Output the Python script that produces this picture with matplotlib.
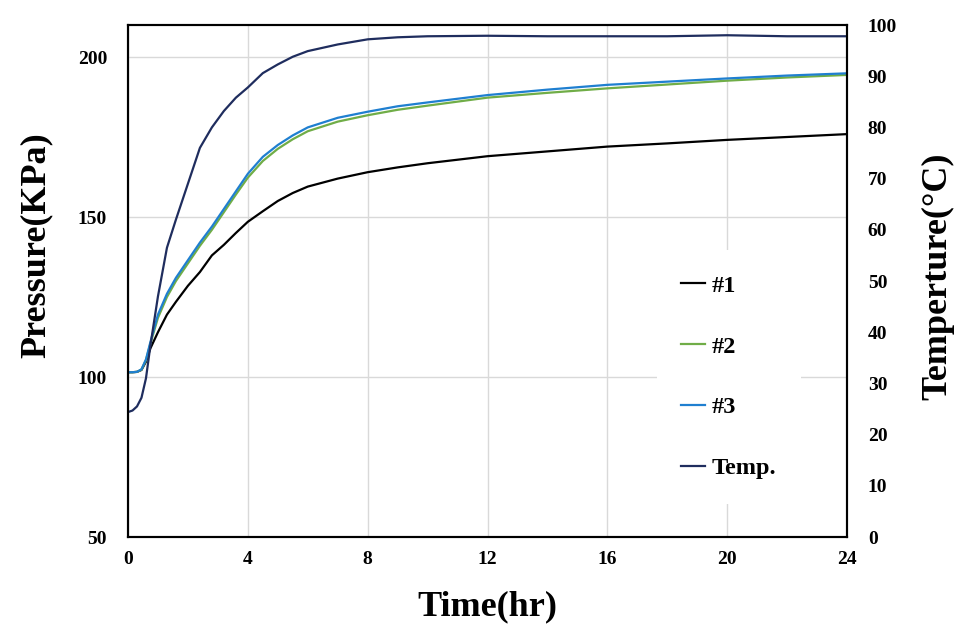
import matplotlib

matplotlib.use("Agg")
import matplotlib.pyplot as plt  # noqa: E402

plt.rcParams["font.family"] = ["Liberation Serif", "DejaVu Serif"]
plt.rcParams["font.weight"] = "bold"

# time (hr)
t = [0, 0.15, 0.3, 0.45, 0.6, 0.75, 1.0, 1.3, 1.6, 2.0, 2.4, 2.8, 3.2, 3.6, 4.0, 4.5,
     5.0, 5.5, 6.0, 7.0, 8.0, 9.0, 10.0, 12.0, 14.0, 16.0, 18.0, 20.0, 22.0, 24.0]

# pressure (KPa)
p1 = [101.5, 101.5, 101.6, 102.2, 104.8, 109.0, 114.0, 119.5, 123.5, 128.5, 132.8,
      138.0, 141.3, 145.0, 148.5, 151.8, 155.0, 157.5, 159.5, 162.0, 164.0, 165.5,
      166.8, 169.0, 170.5, 172.0, 173.0, 174.1, 175.0, 175.9]
p2 = [101.5, 101.5, 101.6, 102.3, 105.3, 110.5, 118.5, 125.0, 130.0, 135.5, 141.0,
      146.0, 151.5, 157.0, 162.3, 167.5, 171.3, 174.3, 176.8, 179.8, 181.8, 183.5,
      184.8, 187.3, 188.8, 190.2, 191.4, 192.6, 193.6, 194.4]
p3 = [101.5, 101.5, 101.6, 102.4, 105.5, 111.0, 119.5, 126.0, 131.0, 136.5, 142.0,
      147.0, 152.5, 158.0, 163.5, 168.8, 172.5, 175.5, 178.0, 181.0, 182.9, 184.6,
      185.8, 188.1, 189.8, 191.3, 192.3, 193.3, 194.2, 194.9]

# temperature (°C)
temp = [24.4, 24.7, 25.5, 27.2, 31.0, 37.5, 47.0, 56.5, 62.0, 69.0, 76.0, 80.0,
        83.2, 85.8, 87.8, 90.6, 92.3, 93.8, 94.9, 96.2, 97.2, 97.6, 97.8, 97.9,
        97.8, 97.8, 97.8, 98.0, 97.8, 97.8]

x_ticks = [0, 4, 8, 12, 16, 20, 24]
p_ticks = [50, 100, 150, 200]
t_ticks = list(range(0, 101, 10))

fig = plt.figure(figsize=(9.77, 6.38), dpi=100)
ax = fig.add_axes([128 / 977, 101 / 638, 719 / 977, 512 / 638])
ax2 = ax.twinx()

l1, = ax.plot(t, p1, color="black", lw=1.6, label="#1")
l2, = ax.plot(t, p2, color="#70ad47", lw=1.6, label="#2")
l3, = ax.plot(t, p3, color="#1f7fd0", lw=1.6, label="#3")
l4, = ax2.plot(t, temp, color="#1f2d5e", lw=1.6, label="Temp.")

ax.set_xlim(0, 24)
ax.set_ylim(50, 210)
ax2.set_ylim(0, 100)
ax.set_xticks(x_ticks)
ax.set_yticks(p_ticks)
ax2.set_yticks(t_ticks)

ax.grid(True, color="#d9d9d9", lw=1.0)
ax.set_axisbelow(True)

ax.tick_params(axis="both", length=0, labelsize=14)
ax.tick_params(axis="y", pad=15)
ax.tick_params(axis="x", pad=10)
ax2.tick_params(axis="y", length=0, labelsize=14, pad=15)
for lab in ax.get_xticklabels() + ax.get_yticklabels() + ax2.get_yticklabels():
    lab.set_fontweight("bold")

for a in (ax, ax2):
    for s in a.spines.values():
        s.set_color("black")
        s.set_linewidth(1.5)

ax.set_xlabel("Time(hr)", fontsize=26, fontweight="bold")
ax.set_ylabel("Pressure(KPa)", fontsize=26, fontweight="bold")
ax2.set_ylabel("Temperture(°C)", fontsize=26, fontweight="bold")
ax.xaxis.set_label_coords(0.5, -0.105)
ax.yaxis.set_label_coords(-0.105, 0.57)
ax2.yaxis.set_label_coords(1.104, 0.51)

leg = ax2.legend(handles=[l1, l2, l3, l4], loc="center left",
                 bbox_to_anchor=(0.719, 0.3125), frameon=True,
                 prop={"weight": "bold", "size": 17.5},
                 labelspacing=1.6, handlelength=0.95, handletextpad=0.3,
                 borderpad=1.0, fancybox=False)
leg.get_frame().set_edgecolor("none")
leg.get_frame().set_facecolor("white")
leg.get_frame().set_alpha(1.0)

fig.savefig("out.png", dpi=100)
